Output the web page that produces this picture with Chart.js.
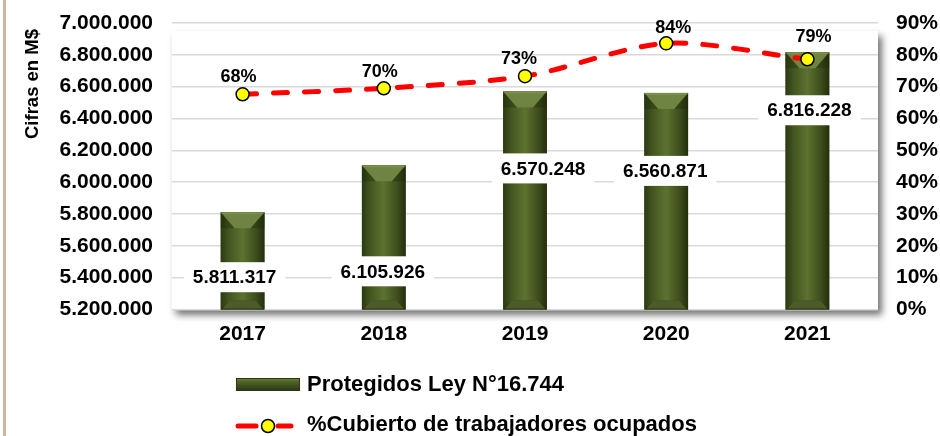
<!DOCTYPE html>
<html>
<head>
<meta charset="utf-8">
<script src="https://cdn.jsdelivr.net/npm/chart.js@4.4.0/dist/chart.umd.min.js"></script>
<style>
  html, body { margin: 0; padding: 0; background: #fff; }
  #wrap { width: 940px; height: 436px; }
</style>
</head>
<body>
<div id="wrap"><canvas id="chart" width="940" height="436"></canvas></div>
<script>
// data
const years = ['2017', '2018', '2019', '2020', '2021'];
const protegidos = [5811317, 6105926, 6570248, 6560871, 6816228];
const cubierto = [67.6, 69.5, 73.3, 83.6, 78.6]; // % shown rounded
const leftMin = 5200000, leftMax = 7000000, leftStep = 200000;
const rightMin = 0, rightMax = 90, rightStep = 10;

const FONT = '"Liberation Sans", Arial, sans-serif';
const fmt = n => Math.round(n).toString().replace(/\B(?=(\d{3})+(?!\d))/g, '.');

// label nudges (pixels), Excel labels were moved by hand
const valueLabelShift = [[-8, 65], [-1, 106], [18, 77], [-1, 78], [2, 58]];
const pctLabelShift = [[-4, -17], [-4, -16], [-6, -17], [7, -15], [6, -22]];

function bevelBar(ctx, x, top, base, w) {
  const l = x - w / 2, r = x + w / 2;
  const g = ctx.createLinearGradient(l, 0, r, 0);
  g.addColorStop(0, '#2c3913');
  g.addColorStop(0.18, '#435520');
  g.addColorStop(0.5, '#5d7230');
  g.addColorStop(0.82, '#3c4c1b');
  g.addColorStop(1, '#242e0e');
  ctx.fillStyle = g;
  ctx.fillRect(l, top, w, base - top);
  const b = Math.min(16, (base - top) / 3);
  // top bevel
  ctx.fillStyle = '#6f8342';
  ctx.beginPath();
  ctx.moveTo(l, top); ctx.lineTo(r, top);
  ctx.lineTo(x + 8, top + b); ctx.lineTo(x - 8, top + b);
  ctx.closePath(); ctx.fill();
  ctx.fillStyle = 'rgba(150,170,100,0.35)';
  ctx.fillRect(l, top, w, 2);
  // side shades of the top bevel
  ctx.fillStyle = 'rgba(30,40,10,0.35)';
  ctx.beginPath(); ctx.moveTo(l, top); ctx.lineTo(x - 8, top + b); ctx.lineTo(l, top + b); ctx.closePath(); ctx.fill();
  ctx.beginPath(); ctx.moveTo(r, top); ctx.lineTo(x + 8, top + b); ctx.lineTo(r, top + b); ctx.closePath(); ctx.fill();
  // bottom bevel
  const bb = 9;
  ctx.fillStyle = '#2a3512';
  ctx.beginPath();
  ctx.moveTo(l, base); ctx.lineTo(r, base);
  ctx.lineTo(r - bb, base - bb); ctx.lineTo(l + bb, base - bb);
  ctx.closePath(); ctx.fill();
  ctx.fillStyle = 'rgba(110,130,60,0.5)';
  ctx.beginPath();
  ctx.moveTo(l + 2, base - 1); ctx.lineTo(r - 2, base - 1);
  ctx.lineTo(r - bb, base - bb); ctx.lineTo(l + bb, base - bb);
  ctx.closePath(); ctx.fill();
}

const decor = {
  id: 'decor',
  beforeDraw(chart) {
    const { ctx, chartArea: a } = chart;
    ctx.save();
    ctx.shadowColor = 'rgba(0,0,0,0.55)';
    ctx.shadowBlur = 7;
    ctx.shadowOffsetX = 4;
    ctx.shadowOffsetY = 5;
    ctx.fillStyle = '#fff';
    ctx.fillRect(a.left, a.top + 8, a.right - a.left, a.bottom - a.top - 8);
    ctx.restore();
    // tan frame line on the left
    ctx.save();
    ctx.fillStyle = '#d2b49c';
    ctx.fillRect(3, 0, 3, chart.height);
    ctx.restore();
  },
  afterDatasetDraw(chart, args) {
    if (args.index !== 0) return;
    const ctx = chart.ctx;
    const bottom = chart.chartArea.bottom;
    ctx.save();
    args.meta.data.forEach(el => {
      const p = el.getProps(['x', 'y', 'width'], true);
      bevelBar(ctx, p.x, p.y, bottom, p.width);
    });
    ctx.restore();
  },
  afterDatasetsDraw(chart) {
    const ctx = chart.ctx;
    ctx.save();
    ctx.textAlign = 'center';
    ctx.textBaseline = 'middle';
    // bar values in white boxes
    ctx.font = 'bold 19px ' + FONT;
    chart.getDatasetMeta(0).data.forEach((el, i) => {
      const [dx, dy] = valueLabelShift[i];
      const t = fmt(protegidos[i]);
      const cx = el.x + dx, cy = el.y + dy;
      const w = ctx.measureText(t).width + 18;
      ctx.fillStyle = '#fff';
      ctx.fillRect(cx - w / 2, cy - 15, w, 30);
      ctx.fillStyle = '#000';
      ctx.fillText(t, cx, cy + 1);
    });
    // percentages
    ctx.font = 'bold 18px ' + FONT;
    chart.getDatasetMeta(1).data.forEach((el, i) => {
      const [dx, dy] = pctLabelShift[i];
      ctx.fillStyle = '#000';
      ctx.fillText(Math.round(cubierto[i]) + '%', el.x + dx, el.y + dy);
    });
    ctx.restore();
  },
  afterDraw(chart) {
    const ctx = chart.ctx;
    ctx.save();
    // axis title
    ctx.translate(33, 84);
    ctx.rotate(-Math.PI / 2);
    ctx.font = 'bold 18.5px ' + FONT;
    ctx.fillStyle = '#000';
    ctx.textAlign = 'center';
    ctx.textBaseline = 'middle';
    ctx.fillText('Cifras en M$', 0, 0);
    ctx.restore();

    // legend, stacked
    ctx.save();
    const ds = chart.data.datasets;
    ctx.font = 'bold 22px ' + FONT;
    ctx.fillStyle = '#000';
    ctx.textBaseline = 'middle';
    ctx.textAlign = 'left';
    // bar entry
    const g = ctx.createLinearGradient(0, 378, 0, 391);
    g.addColorStop(0, '#6f8342');
    g.addColorStop(0.3, '#4f6326');
    g.addColorStop(1, '#2a3512');
    ctx.fillStyle = g;
    ctx.fillRect(236, 378, 64, 13);
    ctx.strokeStyle = '#2a3512';
    ctx.lineWidth = 1;
    ctx.strokeRect(236.5, 378.5, 63, 12);
    ctx.fillStyle = '#000';
    ctx.fillText(ds[0].label, 307, 385);
    // line entry
    ctx.strokeStyle = '#ff0000';
    ctx.lineWidth = 5;
    ctx.lineCap = 'round';
    ctx.beginPath(); ctx.moveTo(238, 426); ctx.lineTo(256, 426); ctx.stroke();
    ctx.beginPath(); ctx.moveTo(278, 426); ctx.lineTo(291, 426); ctx.stroke();
    ctx.beginPath(); ctx.arc(268, 426, 6.5, 0, Math.PI * 2);
    ctx.fillStyle = '#ffff00'; ctx.fill();
    ctx.lineWidth = 1.5; ctx.strokeStyle = '#000'; ctx.stroke();
    ctx.fillStyle = '#000';
    ctx.fillText(ds[1].label, 307, 425);
    ctx.restore();
  }
};

const noPad = s => { s.paddingTop = 0; s.paddingBottom = 0; s.paddingLeft = 0; s.paddingRight = 0; };

new Chart(document.getElementById('chart'), {
  data: {
    labels: years,
    datasets: [
      {
        type: 'bar',
        label: 'Protegidos Ley N°16.744',
        data: protegidos,
        yAxisID: 'y',
        backgroundColor: '#4f6228',
        barPercentage: 0.62,
        categoryPercentage: 0.5,
        order: 2
      },
      {
        type: 'line',
        label: '%Cubierto de trabajadores ocupados',
        data: cubierto,
        yAxisID: 'y1',
        borderColor: '#ff0000',
        borderWidth: 5,
        borderDash: [14, 17],
        borderCapStyle: 'round',
        tension: 0.3,
        pointRadius: 6.5,
        pointBackgroundColor: '#ffff00',
        pointBorderColor: '#000',
        pointBorderWidth: 1.5,
        order: 1
      }
    ]
  },
  options: {
    responsive: false,
    animation: false,
    layout: { padding: { top: 23, left: 0, right: 0, bottom: 0 } },
    plugins: { legend: { display: false }, tooltip: { enabled: false } },
    scales: {
      x: {
        grid: { display: false, drawTicks: false },
        border: { display: false },
        ticks: { color: '#000', font: { family: FONT, size: 21, weight: 'bold' }, padding: 12 },
        afterFit: s => { s.height = 126.5; noPad(s); }
      },
      y: {
        position: 'left',
        min: leftMin, max: leftMax,
        grid: { color: '#d9d9d9', lineWidth: 1.5, drawTicks: false },
        border: { display: false },
        ticks: {
          stepSize: leftStep, padding: 19, color: '#000',
          font: { family: FONT, size: 21, weight: 'bold' },
          callback: v => fmt(v)
        },
        afterFit: s => { s.width = 172; noPad(s); }
      },
      y1: {
        position: 'right',
        min: rightMin, max: rightMax,
        grid: { display: false, drawTicks: false },
        border: { display: false },
        ticks: {
          stepSize: rightStep, padding: 18, color: '#000',
          font: { family: FONT, size: 21, weight: 'bold' },
          callback: v => v + '%'
        },
        afterFit: s => { s.width = 62; noPad(s); }
      }
    }
  },
  plugins: [decor]
});
</script>
</body>
</html>
